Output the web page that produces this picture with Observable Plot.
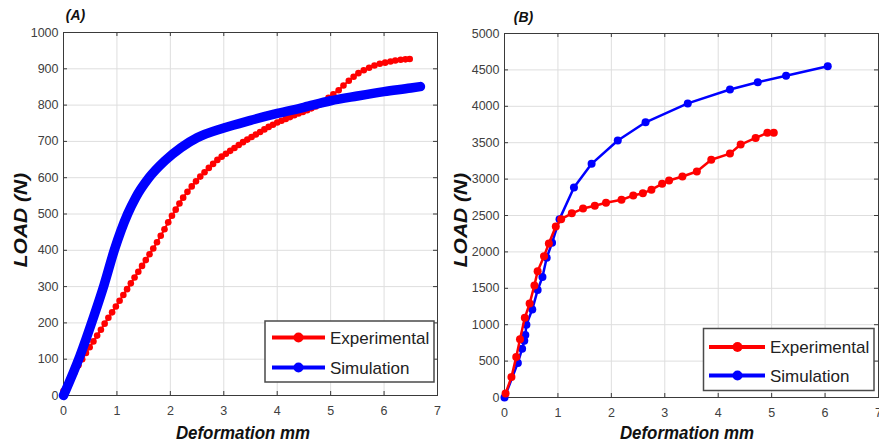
<!DOCTYPE html>
<html><head><meta charset="utf-8">
<script src="https://cdn.jsdelivr.net/npm/d3@7"></script>
<script src="https://cdn.jsdelivr.net/npm/@observablehq/plot@0.6"></script>
<style>
body{margin:0;background:#fff;}
#wrap{position:relative;width:879px;height:448px;overflow:hidden;font-family:"Liberation Sans",Arial,sans-serif;}
#wrap > svg.panel{position:absolute;top:0;}
#overlay{position:absolute;left:0;top:0;pointer-events:none;}
</style></head>
<body><div id="wrap"></div>
<script>
// ---------- data ----------
const xTicks = [0, 1, 2, 3, 4, 5, 6, 7];
const yTicksA = [0, 100, 200, 300, 400, 500, 600, 700, 800, 900, 1000];
const yTicksB = [0, 500, 1000, 1500, 2000, 2500, 3000, 3500, 4000, 4500, 5000];
const seriesNames = ["Experimental", "Simulation"];
const seriesColors = ["#f00", "#00f"];
const panelTitles = ["(A)", "(B)"];
const xLabel = "Deformation mm";
const yLabel = "LOAD (N)";

// Panel A – experimental (red dots)
const expA_x = [0,0.07,0.14,0.21,0.28,0.35,0.42,0.49,0.56,0.63,0.70,0.77,0.84,0.91,0.98,1.05,1.12,1.19,1.26,1.33,1.40,1.47,1.54,1.61,1.68,1.75,1.82,1.89,1.96,2.03,2.10,2.17,2.24,
  2.32,2.40,2.48,2.56,2.64,2.72,2.80,2.88,2.96,3.04,3.12,3.20,3.28,3.36,3.44,3.52,3.60,3.68,3.76,3.84,3.92,4.00,4.08,4.16,4.24,4.32,4.40,4.48,4.56,4.64,4.72,4.80,
  4.88,4.96,5.05,5.15,5.24,5.34,5.43,5.52,5.62,5.72,5.82,5.92,6.02,6.12,6.21,6.31,6.40,6.48];
const expA_y = [12,30,47,65,83,100,117,133,149,165,181,198,214,229,245,261,277,293,309,325,341,357,373,389,405,422,440,458,477,495,512,529,545,
  561,576,590,603,615,627,638,649,658,666,674,682,690,698,705,712,719,726,733,740,746,752,757,762,767,772,777,781,786,791,796,802,
  810,820,830,841,854,867,878,888,896,903,909,914,917,920,923,925,926,927];
// Panel A – simulation (thick blue)
const simA_x = [0,0.31,0.56,0.76,0.95,1.2,1.35,1.6,1.9,2.2,2.5,3.0,3.5,4.0,4.5,5.0,5.5,6.0,6.5,6.68];
const simA_y = [0,110,215,305,400,500,545,600,647,683,710,737,758,777,794,812,825,837,847,851];

// Panel B – experimental
const expB_x = [0.02,0.13,0.22,0.29,0.38,0.47,0.56,0.62,0.74,0.83,0.96,1.06,1.26,1.47,1.69,1.90,2.19,2.41,2.59,2.75,2.95,3.08,3.33,3.60,3.87,4.22,4.42,4.70,4.92,5.04];
const expB_y = [55,280,555,800,1095,1290,1540,1735,1940,2115,2350,2450,2530,2595,2635,2675,2715,2775,2805,2855,2935,2980,3035,3105,3265,3350,3475,3565,3635,3635];
// Panel B – simulation
const simB_x = [0,0.25,0.33,0.37,0.39,0.41,0.52,0.62,0.71,0.79,0.89,1.03,1.30,1.63,2.12,2.64,3.43,4.22,4.74,5.27,6.05];
const simB_y = [0,475,670,780,860,1000,1210,1475,1655,1920,2125,2450,2885,3210,3530,3780,4040,4230,4330,4420,4550];

// ---------- helpers ----------
const zip = (xs, ys) => xs.map((x, i) => ({x, y: ys[i]}));
const axisCol = "#3a3a3a";
const plain = d => String(d);

function makePanel(o) {
  const {width, height, ml, mr, mt, mb, yMax, yTicks, seriesMarks} = o;
  const pw = width - ml - mr, ph = height - mt - mb;
  return Plot.plot({
    width, height,
    marginLeft: ml, marginRight: mr, marginTop: mt, marginBottom: mb,
    x: {domain: [0, 7]},
    y: {domain: [0, yMax]},
    style: {fontSize: "12.5px", fontFamily: "'Liberation Sans', Arial, sans-serif", color: "#404040", background: "transparent", overflow: "visible"},
    marks: [
      Plot.gridX(xTicks, {stroke: "#dedede", strokeOpacity: 1}),
      Plot.gridY(yTicks, {stroke: "#dedede", strokeOpacity: 1}),
      Plot.frame({stroke: axisCol, strokeWidth: 1}),
      Plot.tickX(xTicks, {x: d => d, insetTop: ph - 4, stroke: axisCol}),
      Plot.tickX(xTicks, {x: d => d, insetBottom: ph - 4, stroke: axisCol}),
      Plot.tickY(yTicks, {y: d => d, insetRight: pw - 4, stroke: axisCol}),
      Plot.tickY(yTicks, {y: d => d, insetLeft: pw - 4, stroke: axisCol}),
      Plot.axisX(xTicks, {tickSize: 0, tickPadding: 11, label: null, tickFormat: plain}),
      Plot.axisY(yTicks, {tickSize: 0, tickPadding: 5, label: null, tickFormat: plain}),
      ...seriesMarks
    ]
  });
}

const expA = zip(expA_x, expA_y), simA = zip(simA_x, simA_y);
const expB = zip(expB_x, expB_y), simB = zip(simB_x, simB_y);

const panelA = makePanel({
  width: 440, height: 448, ml: 63, mr: 3, mt: 32, mb: 53, yMax: 1000, yTicks: yTicksA,
  seriesMarks: [
    Plot.line(expA, {x: "x", y: "y", stroke: seriesColors[0], strokeWidth: 2}),
    Plot.dot(expA, {x: "x", y: "y", r: 3.3, fill: seriesColors[0], stroke: "none"}),
    Plot.line(simA, {x: "x", y: "y", stroke: seriesColors[1], strokeWidth: 9.5, strokeLinecap: "round", strokeLinejoin: "round", curve: "monotone-x"})
  ]
});
const panelB = makePanel({
  width: 439, height: 448, ml: 64, mr: 1, mt: 33, mb: 51, yMax: 5000, yTicks: yTicksB,
  seriesMarks: [
    Plot.line(simB, {x: "x", y: "y", stroke: seriesColors[1], strokeWidth: 2.5}),
    Plot.dot(simB, {x: "x", y: "y", r: 4, fill: seriesColors[1], stroke: "none"}),
    Plot.line(expB, {x: "x", y: "y", stroke: seriesColors[0], strokeWidth: 2.5}),
    Plot.dot(expB, {x: "x", y: "y", r: 4, fill: seriesColors[0], stroke: "none"})
  ]
});

const wrap = document.getElementById("wrap");
panelA.classList.add("panel"); panelA.style.left = "0px";
panelB.classList.add("panel"); panelB.style.left = "440px";
wrap.appendChild(panelA);
wrap.appendChild(panelB);

// ---------- overlay: titles, axis labels, legends ----------
const ov = d3.select(wrap).append("svg").attr("id", "overlay").attr("width", 879).attr("height", 448)
  .style("font-family", "'Liberation Sans', Arial, sans-serif");

const boldItalic = sel => sel.attr("font-weight", "bold").attr("font-style", "italic").attr("fill", "#111");

const layout = [
  {title: [75.5, 15], xl: [243, 432], yl: [20, 220], legend: {x: 265, y: 321, w: 169, h: 61, rows: [16.5, 46.5], lx1: 7, lx2: 60, mx: 33.5, tx: 65}},
  {title: [523.5, 16.5], xl: [687, 432], yl: [460, 220], legend: {x: 703.5, y: 328.5, w: 170.5, h: 62, rows: [18.5, 47], lx1: 5.5, lx2: 61.5, mx: 34, tx: 66.5}}
];

layout.forEach((L, p) => {
  boldItalic(ov.append("text").attr("transform", `translate(${L.title[0]},${L.title[1]})`)
    .attr("text-anchor", "middle").attr("dy", "0.36em").attr("font-size", 14).text(panelTitles[p]));
  boldItalic(ov.append("text").attr("transform", `translate(${L.xl[0]},${L.xl[1]}) scale(0.89,1)`)
    .attr("text-anchor", "middle").attr("dy", "0.36em").attr("font-size", 19).text(xLabel));
  boldItalic(ov.append("text").attr("transform", `translate(${L.yl[0]},${L.yl[1]}) rotate(-90) scale(1,0.89)`)
    .attr("text-anchor", "middle").attr("dy", "0.36em").attr("font-size", 21).text(yLabel));
  const g = ov.append("g").attr("transform", `translate(${L.legend.x},${L.legend.y})`);
  g.append("rect").attr("width", L.legend.w).attr("height", L.legend.h)
    .attr("fill", "#fff").attr("stroke", "#4a4a4a").attr("stroke-width", 1.5);
  seriesNames.forEach((name, i) => {
    const y = L.legend.rows[i];
    g.append("line").attr("x1", L.legend.lx1).attr("x2", L.legend.lx2).attr("y1", y).attr("y2", y)
      .attr("stroke", seriesColors[i]).attr("stroke-width", 4);
    g.append("circle").attr("cx", L.legend.mx).attr("cy", y).attr("r", 5).attr("fill", seriesColors[i]);
    g.append("text").attr("x", L.legend.tx).attr("y", y).attr("dy", "0.36em")
      .attr("font-size", 17).attr("fill", "#222").text(name);
  });
});
</script>
</body></html>
